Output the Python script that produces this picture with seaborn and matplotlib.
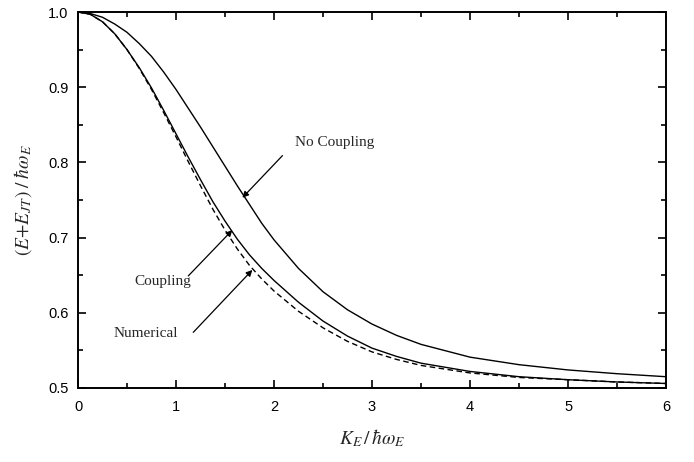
import numpy as np
import pandas as pd
import matplotlib
matplotlib.use("Agg")
import matplotlib.pyplot as plt
import seaborn as sns
from matplotlib.ticker import MultipleLocator, FormatStrFormatter

# values
k_e = [0, 0.125, 0.25, 0.375, 0.5, 0.625, 0.75, 0.875, 1.0, 1.125, 1.25,
       1.375, 1.5, 1.625, 1.75, 1.875, 2.0, 2.25, 2.5, 2.75, 3.0, 3.25,
       3.5, 4.0, 4.5, 5.0, 5.5, 6.0]
no_coupling = [1.000, 0.998, 0.993, 0.984, 0.973, 0.958, 0.941, 0.920, 0.897,
               0.872, 0.847, 0.821, 0.795, 0.769, 0.744, 0.719, 0.697, 0.659,
               0.628, 0.604, 0.585, 0.570, 0.558, 0.541, 0.531, 0.524, 0.519,
               0.515]
coupling = [1.000, 0.997, 0.987, 0.971, 0.950, 0.926, 0.899, 0.869, 0.838,
            0.807, 0.777, 0.748, 0.722, 0.698, 0.677, 0.659, 0.643, 0.614,
            0.589, 0.569, 0.553, 0.542, 0.533, 0.522, 0.515, 0.511, 0.508,
            0.506]
numerical = [1.000, 0.997, 0.987, 0.971, 0.950, 0.925, 0.897, 0.866, 0.834,
             0.801, 0.769, 0.738, 0.710, 0.685, 0.663, 0.645, 0.629, 0.602,
             0.580, 0.562, 0.548, 0.538, 0.530, 0.520, 0.514, 0.511, 0.508,
             0.506]

df = pd.DataFrame({"K": k_e, "No Coupling": no_coupling,
                   "Coupling": coupling, "Numerical": numerical})

sns.set_theme(style="ticks")
plt.rcParams["font.family"] = ["Liberation Sans", "DejaVu Sans"]
plt.rcParams["mathtext.fontset"] = "stix"

fig = plt.figure(figsize=(6.94, 4.62), dpi=100)
ax = fig.add_axes([0.1124, 0.1602, 0.8473, 0.8138])

sns.lineplot(data=df, x="K", y="No Coupling", ax=ax, color="black", lw=1.0)
sns.lineplot(data=df, x="K", y="Coupling", ax=ax, color="black", lw=1.0)
sns.lineplot(data=df, x="K", y="Numerical", ax=ax, color="black", lw=1.0,
             linestyle=(0, (4, 2.5)))

ax.set_xlim(0, 6)
ax.set_ylim(0.5, 1.0)
ax.xaxis.set_major_locator(MultipleLocator(1))
ax.xaxis.set_minor_locator(MultipleLocator(0.5))
ax.yaxis.set_major_locator(MultipleLocator(0.1))
ax.yaxis.set_minor_locator(MultipleLocator(0.05))
ax.yaxis.set_major_formatter(FormatStrFormatter("%.1f"))
ax.tick_params(which="both", direction="in", top=True, right=True,
               colors="black", width=1.2)
ax.tick_params(which="major", length=6, labelsize=10.5)
ax.tick_params(axis="y", which="major", pad=7)
ax.tick_params(axis="x", which="major", pad=9)
ax.tick_params(which="minor", length=3.5)
for s in ax.spines.values():
    s.set_linewidth(1.4)
    s.set_color("black")

ax.set_xlabel(r"$K_E\,/\,\hbar\omega_E$", fontsize=14, labelpad=9)
ax.set_ylabel(r"$(E{+}E_{JT})\;/\;\hbar\omega_E$", fontsize=14, labelpad=10)

serif = ["Liberation Serif", "DejaVu Serif"]
arrow = dict(arrowstyle="-|>", color="black", lw=0.9, mutation_scale=9,
             shrinkA=0, shrinkB=0)
ax.text(2.618, 0.826, "No Coupling", family=serif, fontsize=11,
        ha="center", va="center")
ax.annotate("", xy=(1.677, 0.753), xytext=(2.086, 0.809), arrowprops=arrow)
ax.text(0.86, 0.641, "Coupling", family=serif, fontsize=11,
        ha="center", va="center")
ax.annotate("", xy=(1.575, 0.710), xytext=(1.125, 0.649), arrowprops=arrow)
ax.text(0.695, 0.572, "Numerical", family=serif, fontsize=11,
        ha="center", va="center")
ax.annotate("", xy=(1.779, 0.657), xytext=(1.176, 0.574), arrowprops=arrow)

fig.savefig("out.png", dpi=100)
